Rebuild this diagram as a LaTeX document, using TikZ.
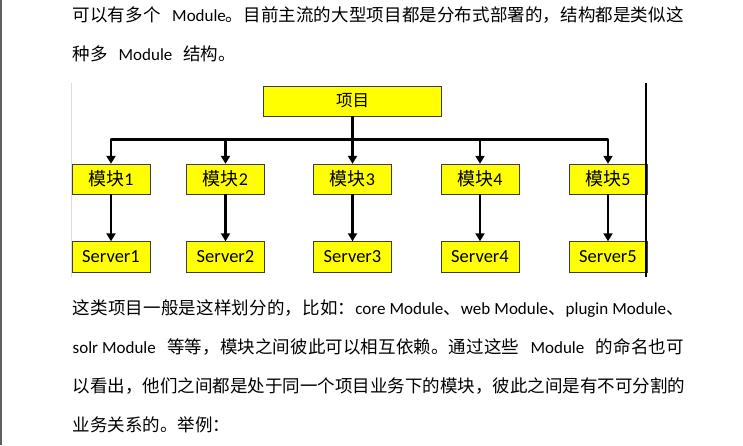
\documentclass[tikz,border=0pt]{standalone}
\usepackage{fontspec}
\setmainfont{Carlito}
\newfontfamily\cjk[WordSpace=2.8]{Noto Sans CJK SC}
\usetikzlibrary{positioning,arrows.meta}

\definecolor{boxYellow}{HTML}{FFFF00}
\definecolor{boxEdge}{HTML}{3C3C3C}
\definecolor{pageEdge}{HTML}{5F5F5F}
\definecolor{imgEdge}{HTML}{D9E2D9}

% glue between CJK characters, so that full lines can be justified
\newXeTeXintercharclass\cjkcls
\newXeTeXintercharclass\cjkpct
\newcount\cjkcnt
\cjkcnt="4E00
\loop\ifnum\cjkcnt<"A000 \XeTeXcharclass\cjkcnt=\cjkcls \advance\cjkcnt by 1 \repeat
\XeTeXcharclass"3001=\cjkpct
\XeTeXcharclass"3002=\cjkpct
\XeTeXcharclass"FF0C=\cjkpct
\XeTeXcharclass"FF1A=\cjkpct
\XeTeXinterchartokenstate=1
\XeTeXinterchartoks\cjkcls\cjkcls = {\hskip 0pt plus 1pt\relax}
\XeTeXinterchartoks\cjkcls\cjkpct = {\hskip 0pt plus 1pt\relax}
\XeTeXinterchartoks\cjkpct\cjkcls = {\hskip 0pt plus 1pt\relax}
\XeTeXinterchartoks\cjkpct\cjkpct = {\hskip 0pt plus 1pt\relax}

\newcommand\en[1]{{\rmfamily\fontsize{17}{20}\selectfont #1}}
\newcommand\fullline[1]{\hbox to 611pt{#1}}

\tikzstyle{projNode} = [rectangle, minimum width=178pt, minimum height=30pt, text centered, draw=boxEdge, fill=boxYellow, font=\fontsize{16.5}{18}\selectfont\cjk]
\tikzstyle{modNode} = [rectangle, minimum width=78pt, minimum height=30pt, text centered, draw=boxEdge, fill=boxYellow, font=\fontsize{18}{20}\selectfont]
\tikzstyle{srvNode} = [rectangle, minimum width=78pt, minimum height=31pt, text centered, draw=boxEdge, fill=boxYellow, font=\fontsize{18.5}{20}\selectfont]
\tikzstyle{arrow} = [line width=2.6pt, line join=round, -{Triangle[length=8pt,width=9pt]}]
\tikzstyle{trunk} = [line width=2.6pt, line join=round]
\tikzstyle{para} = [anchor=base west, inner sep=0pt, font=\fontsize{17.5}{20}\selectfont\cjk]

\begin{document}
\begin{tikzpicture}[x=1pt, y=1pt, node distance=78pt]
    \useasboundingbox (0,0) rectangle (743,-445);
    \fill[white] (0,0) rectangle (743,-445);
    \draw[pageEdge, line width=2pt] (1,0) -- (1,-445);

    % text above the figure
    \node (l1)[para] at (72.5,-21) {\fullline{可以有多个 \en{Module}。目前主流的大型项目都是分布式部署的，结构都是类似这}};
    \node (l2)[para] at (72.5,-60) {种多 \en{Module} 结构。};

    % figure
    \draw[imgEdge, line width=1pt] (71,-83) -- (71,-277);
    \node (proj)[projNode] at (352.5,-101) {项目};
    \node (mod3)[modNode, below of=proj] {{\cjk 模块}3};
    \node (mod2)[modNode, left of=mod3, xshift=-49pt] {{\cjk 模块}2};
    \node (mod1)[modNode, left of=mod2, xshift=-36.5pt] {{\cjk 模块}1};
    \node (mod4)[modNode, right of=mod3, xshift=49.5pt] {{\cjk 模块}4};
    \node (mod5)[modNode, right of=mod4, xshift=50pt] {{\cjk 模块}5};
    \node (srv1)[srvNode, below of=mod1] {Server1};
    \node (srv2)[srvNode, below of=mod2] {Server2};
    \node (srv3)[srvNode, below of=mod3] {Server3};
    \node (srv4)[srvNode, below of=mod4] {Server4};
    \node (srv5)[srvNode, below of=mod5] {Server5};

    \draw [trunk] (proj.south) -- ++(0,-23pt) coordinate (hub);
    \draw [arrow] (hub) -| (mod1.north);
    \draw [arrow] (hub) -| (mod2.north);
    \draw [arrow] (hub) -- (mod3.north);
    \draw [arrow] (hub) -| (mod4.north);
    \draw [arrow] (hub) -| (mod5.north);
    \draw [arrow] (mod1) -- (srv1);
    \draw [arrow] (mod2) -- (srv2);
    \draw [arrow] (mod3) -- (srv3);
    \draw [arrow] (mod4) -- (srv4);
    \draw [arrow] (mod5) -- (srv5);
    \draw[black, line width=1.5pt] (646,-83) -- (646,-277);

    % text below the figure
    \node (l3)[para] at (72.5,-314) {\fullline{这类项目一般是这样划分的，比如：\en{core Module}、\en{web Module}、\en{plugin Module}、}};
    \node (l4)[para] at (72.5,-353) {\fullline{\en{solr Module} 等等，模块之间彼此可以相互依赖。通过这些 \en{Module} 的命名也可}};
    \node (l5)[para] at (72.5,-392) {\fullline{以看出，他们之间都是处于同一个项目业务下的模块，彼此之间是有不可分割的}};
    \node (l6)[para] at (72.5,-431) {业务关系的。举例：};
\end{tikzpicture}
\end{document}
